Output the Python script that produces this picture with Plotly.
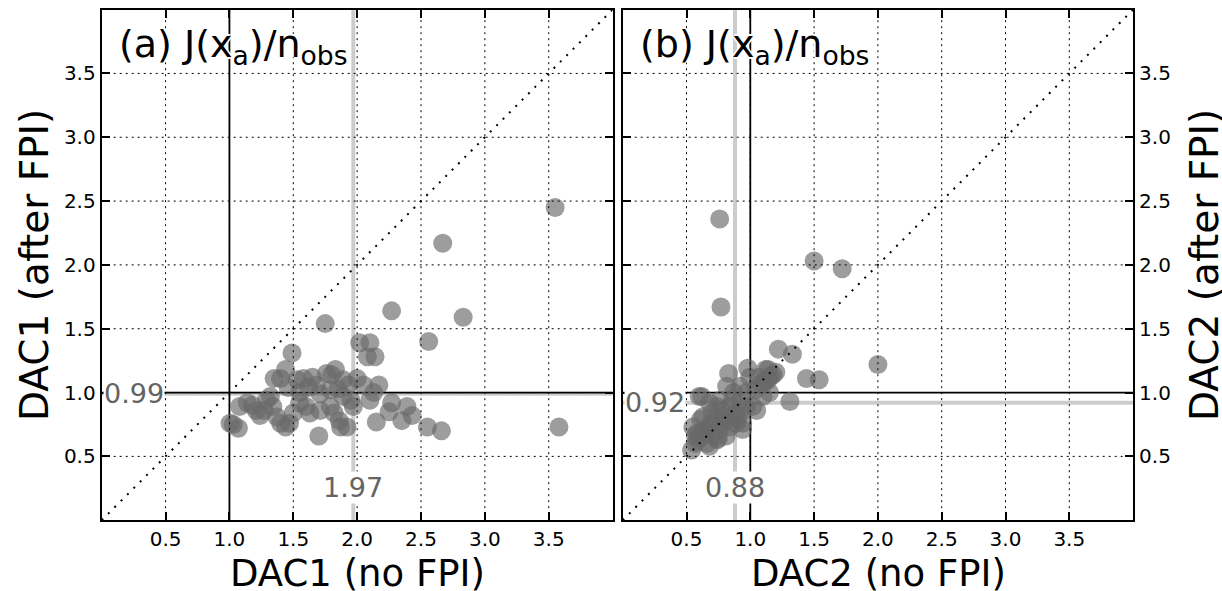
import plotly.graph_objects as go

# panel (a): DAC1, J(xa)/nobs without FPI vs after FPI
dac1_nofpi = [3.55, 2.67, 2.83, 2.27, 2.56, 1.75, 3.58, 2.55, 2.66, 1.70,
              1.49, 1.44, 1.35, 1.40, 2.02, 2.10, 2.08, 2.14, 1.58, 1.65,
              1.76, 1.83, 1.80, 1.89, 2.00, 2.05, 2.17, 2.10, 1.68, 1.08,
              1.14, 1.03, 1.07, 1.005, 1.24, 1.21, 1.29, 1.32, 1.34, 1.37,
              1.40, 1.44, 1.47, 1.55, 1.60, 1.63, 1.71, 1.79, 1.71, 1.79,
              1.89, 1.95, 1.97, 1.82, 1.86, 1.87, 2.27, 2.39, 2.43, 2.25,
              2.35, 2.15, 1.53, 1.55, 1.92, 2.13, 1.46, 1.50, 1.62, 1.85,
              1.93, 1.27, 1.18]
dac1_fpi = [2.45, 2.17, 1.59, 1.64, 1.40, 1.54, 0.73, 0.73, 0.70, 0.66,
            1.31, 1.18, 1.11, 1.11, 1.39, 1.39, 1.28, 1.28, 1.11, 1.12,
            1.15, 1.18, 1.14, 1.10, 1.11, 1.06, 1.06, 0.94, 1.06, 0.89,
            0.92, 0.75, 0.72, 0.76, 0.82, 0.86, 0.94, 0.97, 0.89, 0.81,
            0.76, 0.73, 0.76, 0.92, 0.89, 0.84, 0.99, 1.02, 0.86, 0.89,
            0.97, 0.94, 0.89, 0.84, 0.78, 0.73, 0.92, 0.89, 0.82, 0.85,
            0.78, 0.77, 1.10, 1.00, 0.73, 1.00, 1.04, 0.84, 1.04, 1.03,
            1.06, 0.86, 0.90]

# panel (b): DAC2
dac2_nofpi = [0.76, 0.77, 1.50, 1.72, 2.00, 1.44, 1.54, 1.22, 1.33, 1.12,
              1.16, 1.14, 1.15, 1.02, 0.94, 0.60, 1.31, 0.83, 0.98, 1.14,
              1.18, 1.13, 1.08, 1.04, 0.815, 0.92, 0.97, 0.62, 0.68, 0.74,
              1.05, 1.10, 0.90, 0.84, 0.89, 0.79, 0.71, 0.66, 0.61, 0.57,
              0.54, 0.76, 0.84, 0.89, 0.94, 0.74, 0.66, 0.81, 0.61, 0.55,
              0.63, 0.97, 0.92, 0.76, 0.87, 0.996, 0.58, 0.70, 0.80, 0.86,
              0.64, 0.69, 0.73, 0.78, 0.82, 0.59, 0.66, 0.71, 0.93, 1.07,
              1.20, 1.10, 0.88, 0.75, 0.68, 0.57]
dac2_fpi = [2.36, 1.67, 2.03, 1.97, 1.22, 1.11, 1.10, 1.34, 1.30, 1.18,
            1.13, 1.10, 1.00, 0.89, 0.76, 0.97, 0.93, 1.15, 1.19, 1.18,
            1.14, 1.10, 1.07, 1.02, 1.05, 1.05, 1.00, 0.97, 0.92, 0.89,
            0.86, 0.97, 0.79, 0.89, 0.84, 0.81, 0.76, 0.71, 0.66, 0.60,
            0.55, 0.71, 0.73, 0.76, 0.71, 0.63, 0.60, 0.66, 0.79, 0.73,
            0.81, 0.89, 0.94, 0.94, 1.00, 1.12, 0.68, 0.84, 0.77, 0.95,
            0.70, 0.75, 0.80, 0.86, 0.79, 0.63, 0.68, 0.66, 0.85, 1.12,
            1.16, 1.07, 0.83, 0.64, 0.58, 0.66]

medians_a = (1.97, 0.99)
medians_b = (0.88, 0.92)
tick_vals = [0.5, 1.0, 1.5, 2.0, 2.5, 3.0, 3.5]
one_to_one = [0, 4]

FONT = "DejaVu Sans"
pt_color = "rgb(105,105,105)"
med_color = "rgb(204,204,204)"
lab_color = "rgb(100,100,100)"

fig = go.Figure()

panels = [
    ("x", "y", dac1_nofpi, dac1_fpi, medians_a, "(a)"),
    ("x2", "y2", dac2_nofpi, dac2_fpi, medians_b, "(b)"),
]

shapes = []
annotations = []
for xr, yr, xs, ys, med, tag in panels:
    fig.add_trace(go.Scatter(
        x=xs, y=ys, xaxis=xr, yaxis=yr, mode="markers",
        marker=dict(size=19, color=pt_color, opacity=0.65, line=dict(width=0)),
        hoverinfo="skip", showlegend=False))
    fig.add_trace(go.Scatter(
        x=one_to_one, y=one_to_one, xaxis=xr, yaxis=yr, mode="lines",
        line=dict(color="black", width=2, dash="2px,7px"),
        hoverinfo="skip", showlegend=False))

    # medians (light grey) and 1.0 reference lines (black), under the points
    shapes.append(dict(type="line", xref=xr, yref=yr + " domain", x0=med[0], x1=med[0],
                       y0=0, y1=1, line=dict(color=med_color, width=4), layer="below"))
    shapes.append(dict(type="line", xref=xr + " domain", yref=yr, x0=0, x1=1,
                       y0=med[1], y1=med[1], line=dict(color=med_color, width=4), layer="below"))
    shapes.append(dict(type="line", xref=xr, yref=yr + " domain", x0=1, x1=1,
                       y0=0, y1=1, line=dict(color="black", width=1.8), layer="below"))
    shapes.append(dict(type="line", xref=xr + " domain", yref=yr, x0=0, x1=1,
                       y0=1, y1=1, line=dict(color="black", width=1.8), layer="below"))
    # dotted grid drawn on top (classic matplotlib look)
    for t in tick_vals:
        shapes.append(dict(type="line", xref=xr, yref=yr + " domain", x0=t, x1=t, y0=0, y1=1,
                           line=dict(color="black", width=1, dash="2px,4px"), layer="above"))
        shapes.append(dict(type="line", xref=xr + " domain", yref=yr, x0=0, x1=1, y0=t, y1=t,
                           line=dict(color="black", width=1, dash="2px,4px"), layer="above"))

    annotations.append(dict(xref=xr, yref=yr, x=0.25, y=med[1], text="%.2f" % med[1],
                            showarrow=False, xanchor="center", yanchor="middle",
                            font=dict(family=FONT, size=27, color=lab_color),
                            bgcolor="white", borderpad=0))
    annotations.append(dict(xref=xr, yref=yr, x=med[0], y=0.26, text="%.2f" % med[0],
                            showarrow=False, xanchor="center", yanchor="middle",
                            font=dict(family=FONT, size=27, color=lab_color),
                            bgcolor="white", borderpad=0))
    annotations.append(dict(xref=xr + " domain", yref=yr + " domain", x=0.03, y=0.928,
                            text=tag + " J(x<sub>a</sub>)/n<sub>obs</sub>",
                            showarrow=False, xanchor="left", yanchor="middle",
                            font=dict(family=FONT, size=38, color="black",
                                      shadow="2px 0 0 white, -2px 0 0 white, 0 2px 0 white, 0 -2px 0 white")))

# axis titles
title_font = dict(family=FONT, size=37, color="black")
annotations += [
    dict(xref="paper", yref="paper", x=357 / 1222, y=1 - 573 / 591, text="DAC1 (no FPI)",
         showarrow=False, font=title_font, xanchor="center", yanchor="middle"),
    dict(xref="paper", yref="paper", x=878 / 1222, y=1 - 573 / 591, text="DAC2 (no FPI)",
         showarrow=False, font=title_font, xanchor="center", yanchor="middle"),
    dict(xref="paper", yref="paper", x=34 / 1222, y=1 - 265 / 591, text="DAC1 (after FPI)",
         showarrow=False, font=dict(title_font, size=39), textangle=-90,
         xanchor="center", yanchor="middle"),
    dict(xref="paper", yref="paper", x=1204 / 1222, y=1 - 265 / 591, text="DAC2 (after FPI)",
         showarrow=False, font=dict(title_font, size=39), textangle=-90,
         xanchor="center", yanchor="middle"),
]

ax = dict(range=[0, 4], tickvals=tick_vals, tickformat=".1f", ticks="inside", ticklen=8,
          tickwidth=1.5, tickcolor="black", showline=True, linewidth=2, linecolor="black",
          mirror="ticks", showgrid=False, zeroline=False,
          tickfont=dict(family=FONT, size=20, color="black"))

y_dom = [1 - 520.2 / 591, 1 - 9.6 / 591]
fig.update_layout(
    width=1222, height=591, autosize=False,
    margin=dict(l=0, r=0, t=0, b=0),
    paper_bgcolor="white", plot_bgcolor="white",
    xaxis=dict(ax, domain=[101.7 / 1222, 612.6 / 1222], anchor="y"),
    yaxis=dict(ax, domain=y_dom, anchor="x"),
    xaxis2=dict(ax, domain=[622.7 / 1222, 1133.1 / 1222], anchor="y2"),
    yaxis2=dict(ax, domain=y_dom, anchor="x2", side="right"),
    shapes=shapes,
    annotations=annotations,
)

fig.write_html("out.html", config={"displayModeBar": False},
               post_script="document.body.style.margin='0';document.body.style.overflow='hidden';")
